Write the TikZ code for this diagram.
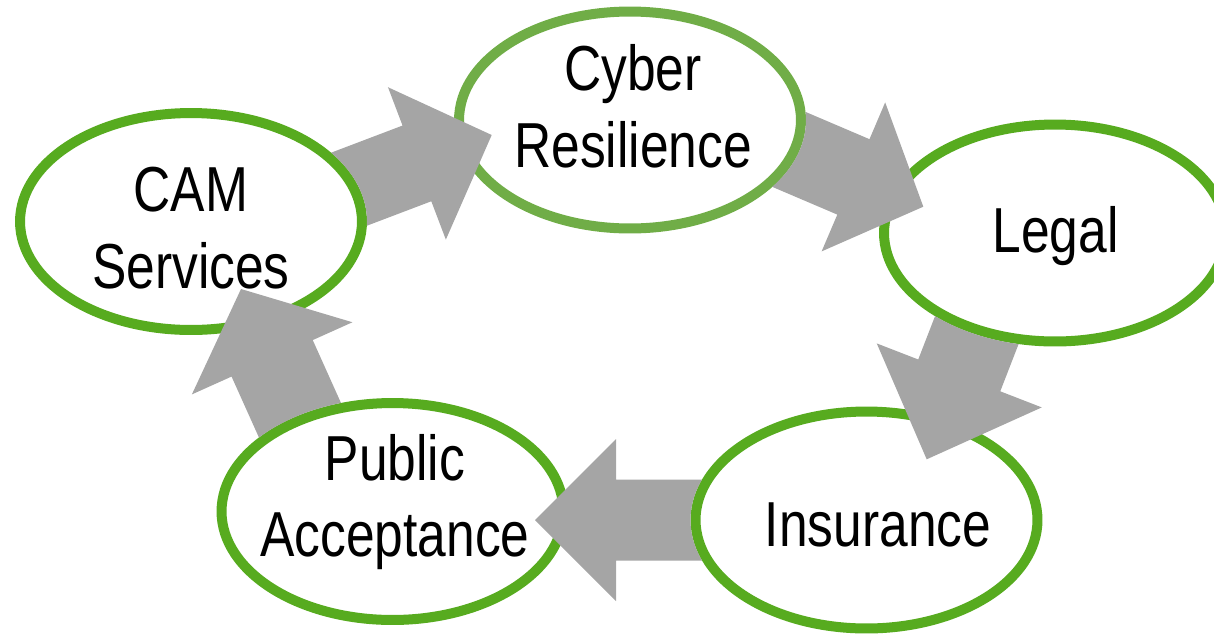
\documentclass[tikz,border=0pt]{standalone}
\usepackage{fontspec}
\newfontfamily\lbfont{Liberation Sans}[FakeStretch=0.81]
\definecolor{ringgreen}{RGB}{87,171,31}
\definecolor{cybergreen}{RGB}{112,173,71}
\definecolor{arrowgray}{RGB}{165,165,165}
\usetikzlibrary{shapes.geometric}
\tikzset{
  ell/.style={ellipse, draw=ringgreen, fill=white, line width=0.2cm,
    minimum width=6.84cm, minimum height=4.34cm, inner sep=0pt},
  lbl/.style={font=\lbfont\fontsize{36.2}{43.5}\selectfont, align=center, inner sep=0pt},
  blockfill/.style={fill=arrowgray}
}
% #1 shaft width, #2 head width, #3 head length, #4 total length
\newcommand\arrowshape[4]{(0,0) -- (-#3,#2/2) -- (-#3,#1/2) -- (-#4,#1/2) -- (-#4,-#1/2) -- (-#3,-#1/2) -- (-#3,-#2/2) -- cycle}
% #1 tip, #2 angle, #3 sw, #4 hw, #5 hl, #6 L, #7 source node
\newcommand\blockarrow[7]{%
  \begin{scope}[even odd rule]
    \clip (-200,-200) rectangle (1500,900)
      (#7.center) ellipse [x radius=176, y radius=113.5];
    \fill[blockfill, shift={(#1)}, rotate=#2] \arrowshape{#3}{#4}{#5}{#6};
  \end{scope}
}
\begin{document}
\begin{tikzpicture}[x=0.02cm,y=-0.02cm]
\useasboundingbox (0,0) rectangle (1214,633);
\clip (0,0) rectangle (1214,633);
% ellipses
\node[ell] (cam) at (191,221.5) {};
\node[ell, draw=cybergreen] (cyber) at (630,120) {};
\node[ell] (legal) at (1055,233) {};
\node[ell] (ins) at (866.5,520) {};
\node[ell] (pub) at (392.5,511.5) {};
% arrow tips
\coordinate (tip1) at (491.7,135);
\coordinate (tip2) at (923.3,206.7);
\coordinate (tip3) at (926.7,459.3);
\coordinate (tip4) at (535,520);
\coordinate (tip5) at (241,289);
% block arrows (tail tucked under the source ring)
\blockarrow{tip1}{20.8}{81}{163}{80}{190}{cam}
\blockarrow{tip2}{-23.1}{82}{162}{76}{220}{cyber}
\blockarrow{tip3}{-111.2}{88}{177}{90}{200}{legal}
\blockarrow{tip4}{180}{81}{162}{81}{260}{ins}
\blockarrow{tip5}{114.2}{89}{176}{76}{200}{pub}
% texts
\node[lbl] (camt) at (191,234.5) {\strut CAM\\\strut Services};
\node[lbl] (cybert) at (633,113.9) {\strut Cyber\\\strut Resilience};
\node[lbl] (legalt) at (1055.7,237.4) {\strut Legal};
\node[lbl] (inst) at (878,531.4) {\strut Insurance};
\node[lbl] (pubt) at (395,503) {\strut Public\\\strut Acceptance};
\end{tikzpicture}
\end{document}
